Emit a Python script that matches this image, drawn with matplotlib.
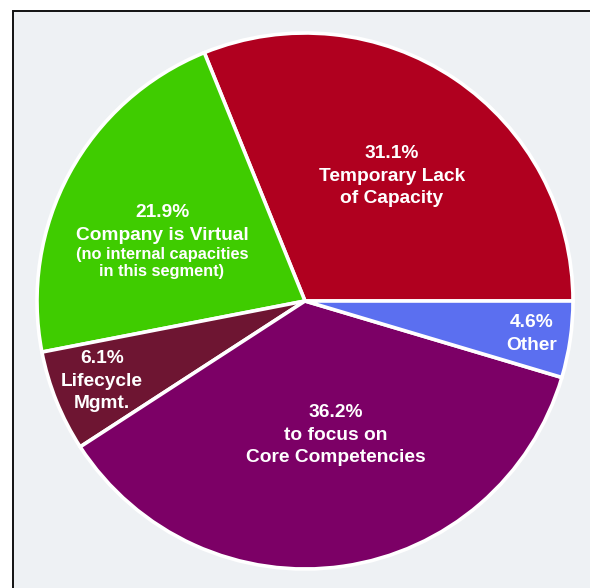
import matplotlib
matplotlib.use("Agg")
import matplotlib.pyplot as plt
from matplotlib.patches import Rectangle

# Reasons for outsourcing (share of responses, %)
categories = ["Temporary Lack\nof Capacity", "Company is Virtual", "Lifecycle\nMgmt.",
              "to focus on\nCore Competencies", "Other"]
shares = [31.1, 21.9, 6.1, 36.2, 4.6]
colors = ["#b0001f", "#3fcc00", "#6e1532", "#7c0066", "#5b6ff0"]
subnotes = ["", "(no internal capacities\nin this segment)", "", "", ""]

W, H = 590, 588
fig = plt.figure(figsize=(W / 100, H / 100), dpi=100)
fig.patch.set_facecolor("white")

ax = fig.add_axes([0, 0, 1, 1])
ax.patch.set_visible(False)

cx, cy, r = 305, H - 301, 268
ax.pie(shares, colors=colors, startangle=0, counterclock=True,
       center=(cx, cy), radius=r,
       wedgeprops=dict(edgecolor="white", linewidth=2.6))
ax.set_xlim(0, W)
ax.set_ylim(0, H)
ax.set_aspect("equal")
ax.axis("off")

# framed light-grey panel behind the pie
ax.add_patch(Rectangle((12.5, -20), W + 20, H - 10.5 + 20, facecolor="#eef1f4",
                       edgecolor="#111111", linewidth=1.4, zorder=-5,
                       clip_on=False))

font = ["Liberation Sans", "DejaVu Sans"]
big = 13.8
small = 11.8

# label anchor (x, baseline of first line) in pixels
anchors = [(392, 158), (162, 217), (102, 363), (336, 417), (532, 327)]
pitch = 23

for share, cat, note, (x, y) in zip(shares, categories, subnotes, anchors):
    lines = [f"{share:.1f}%"] + cat.split("\n")
    yy = y
    for i, txt in enumerate(lines):
        if i > 0:
            yy += pitch if i == 1 else pitch - 1
        ax.text(x, H - yy, txt, color="white", fontsize=big, fontweight="bold",
                family=font, ha="center", va="baseline")
    if note:
        for j, txt in enumerate(note.split("\n")):
            yy += 19 if j == 0 else 17
            ax.text(x, H - yy, txt, color="white", fontsize=small,
                    fontweight="bold", family=font, ha="center", va="baseline")

fig.savefig("out.png", dpi=100, facecolor=fig.get_facecolor())
